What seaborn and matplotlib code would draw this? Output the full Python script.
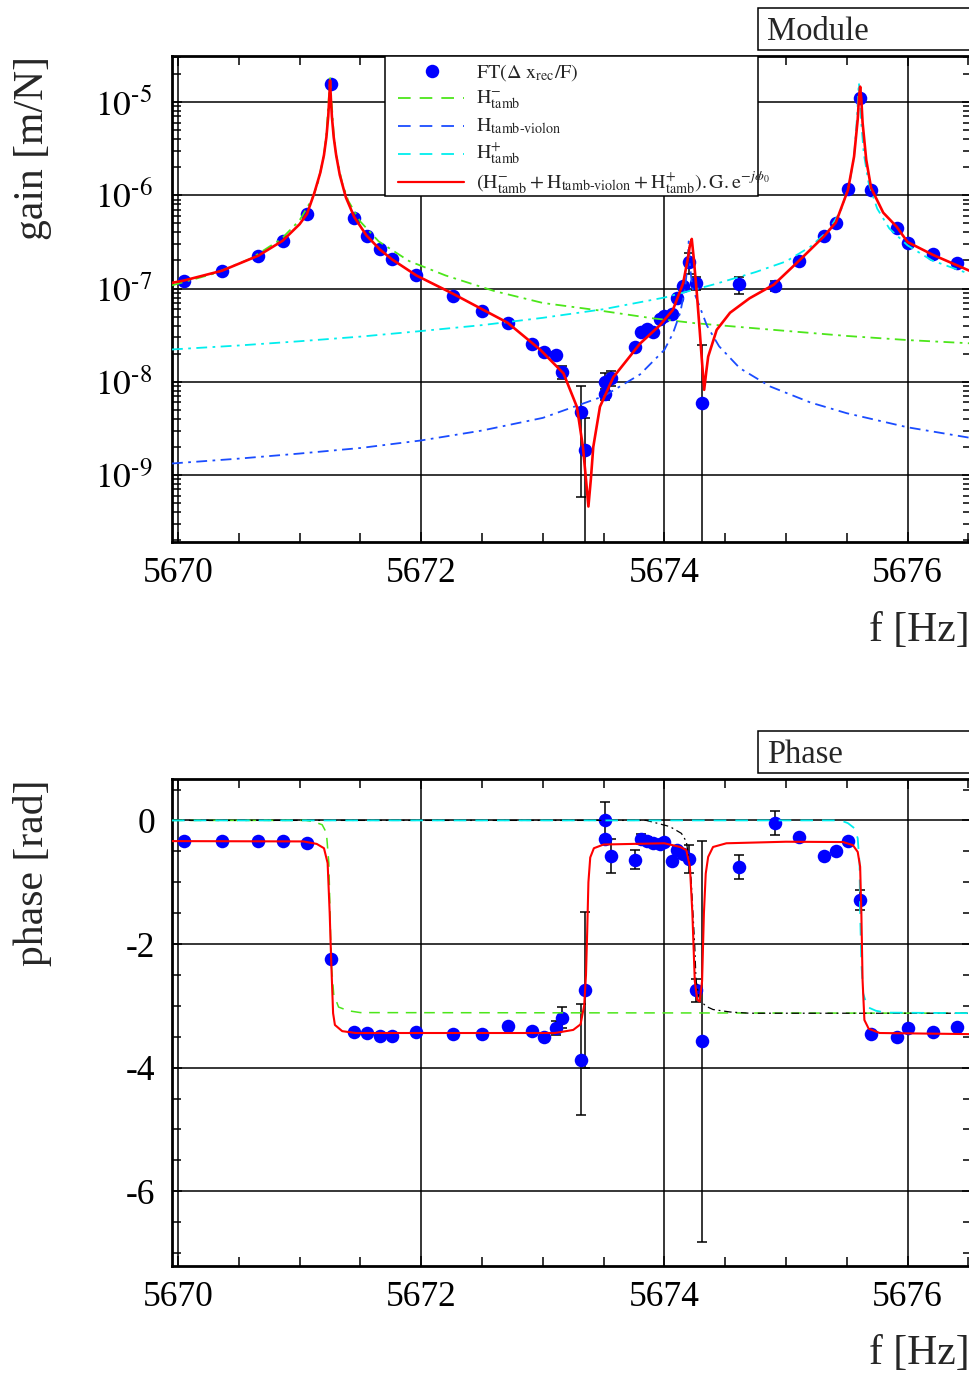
import numpy as np
import pandas as pd
import matplotlib
matplotlib.use('Agg')
import matplotlib.pyplot as plt
import matplotlib.ticker as mticker
from matplotlib.patches import Rectangle
from matplotlib.lines import Line2D
import seaborn as sns

W, H = 970, 1373

# measured points FT(dx_rec/F)
freq = [5670.05, 5670.36, 5670.66, 5670.86, 5671.06, 5671.26, 5671.45, 5671.55, 5671.66, 5671.76,
        5671.96, 5672.26, 5672.50, 5672.71, 5672.91, 5673.01, 5673.11, 5673.16, 5673.31, 5673.35,
        5673.51, 5673.51, 5673.56, 5673.76, 5673.81, 5673.86, 5673.91, 5673.96, 5674.00, 5674.06,
        5674.10, 5674.15, 5674.20, 5674.26, 5674.31, 5674.61, 5674.91, 5675.11, 5675.31, 5675.41,
        5675.51, 5675.61, 5675.70, 5675.91, 5676.00, 5676.21, 5676.41]
gain = [1.2e-7, 1.55e-7, 2.25e-7, 3.26e-7, 6.25e-7, 1.57e-5, 5.66e-7, 3.66e-7, 2.65e-7, 2.06e-7,
        1.40e-7, 8.4e-8, 5.74e-8, 4.24e-8, 2.54e-8, 2.10e-8, 1.95e-8, 1.28e-8, 4.78e-9, 1.85e-9,
        7.4e-9, 1.0e-8, 1.09e-8, 2.38e-8, 3.39e-8, 3.65e-8, 3.44e-8, 4.68e-8, 5.07e-8, 5.28e-8,
        7.96e-8, 1.07e-7, 1.92e-7, 1.15e-7, 5.97e-9, 1.11e-7, 1.07e-7, 1.97e-7, 3.66e-7, 5.08e-7,
        1.17e-6, 1.11e-5, 1.14e-6, 4.49e-7, 3.05e-7, 2.34e-7, 1.86e-7]
gain_err = [0, 0, 0, 0, 0, 0, 0, 0, 0, 0,
            0, 0, 0, 0, 0, 0, 1.5e-9, 2.0e-9, 4.2e-9, 2.2e-9,
            1.0e-9, 2.5e-9, 2.0e-9, 0, 0, 0, 0, 0, 0, 0,
            0, 0, 4.8e-8, 1.8e-8, 1.88e-8, 2.3e-8, 1.2e-8, 0, 0, 0,
            0, 0, 0, 0, 0, 0, 0]
phase = [-0.334, -0.334, -0.334, -0.334, -0.366, -2.237, -3.419, -3.441, -3.484, -3.484,
         -3.419, -3.452, -3.45, -3.32, -3.40, -3.50, -3.36, -3.19, -3.87, -2.74,
         0.01, -0.30, -0.575, -0.634, -0.30, -0.33, -0.37, -0.38, -0.35, -0.656,
         -0.484, -0.548, -0.629, -2.75, -3.576, -0.753, -0.043, -0.269, -0.58, -0.495,
         -0.339, -1.29, -3.452, -3.51, -3.36, -3.43, -3.35]
phase_err = [0, 0, 0, 0, 0, 0, 0, 0, 0, 0,
             0, 0, 0, 0, 0, 0, 0.12, 0.17, 0.9, 1.26,
             0.28, 0.05, 0.28, 0.16, 0.08, 0.06, 0.06, 0.05, 0.05, 0,
             0.05, 0.06, 0.23, 0.19, 3.25, 0.2, 0.2, 0, 0, 0,
             0, 0.16, 0, 0, 0, 0, 0]

# fitted components, gain
hm_f = [5669.95, 5670.3, 5670.6, 5670.85, 5671.0, 5671.1, 5671.15, 5671.2, 5671.22, 5671.235,
        5671.245, 5671.25, 5671.255, 5671.265, 5671.28, 5671.3, 5671.35, 5671.4, 5671.5, 5671.65,
        5671.9, 5672.2, 5672.6, 5673.0, 5673.45, 5673.9, 5674.25, 5674.9, 5675.5, 5676.0, 5676.6]
hm_gain = [1.08e-7, 1.45e-7, 2.1e-7, 3.4e-7, 5.4e-7, 9.0e-7, 1.35e-6, 2.7e-6, 4.5e-6, 9.0e-6,
           1.4e-5, 1.8e-5, 1.4e-5, 9.0e-6, 4.5e-6, 2.7e-6, 1.35e-6, 8.7e-7, 5.2e-7, 3.2e-7,
           1.97e-7, 1.38e-7, 9.4e-8, 7.0e-8, 5.85e-8, 4.8e-8, 4.25e-8, 3.6e-8, 3.1e-8, 2.8e-8, 2.55e-8]

hv_f = [5669.95, 5670.5, 5671.0, 5671.5, 5672.0, 5672.5, 5673.0, 5673.5, 5673.8, 5674.0,
        5674.07, 5674.13, 5674.17, 5674.19, 5674.2, 5674.21, 5674.23, 5674.27, 5674.35, 5674.45,
        5674.62, 5674.87, 5675.2, 5675.5, 5676.0, 5676.6]
hv_gain = [1.33e-9, 1.5e-9, 1.7e-9, 1.95e-9, 2.35e-9, 3.0e-9, 4.1e-9, 7.0e-9, 1.2e-8, 2.2e-8,
           3.3e-8, 5.5e-8, 1.0e-7, 1.8e-7, 3.2e-7, 1.8e-7, 1.0e-7, 7.5e-8, 4.0e-8, 2.4e-8,
           1.4e-8, 8.9e-9, 6.0e-9, 4.6e-9, 3.25e-9, 2.4e-9]

hp_f = [5669.95, 5670.5, 5671.0, 5671.5, 5672.0, 5672.5, 5673.0, 5673.5, 5674.0, 5674.4,
        5674.75, 5675.0, 5675.2, 5675.35, 5675.45, 5675.52, 5675.56, 5675.585, 5675.595, 5675.6,
        5675.605, 5675.615, 5675.64, 5675.68, 5675.75, 5675.85, 5676.0, 5676.2, 5676.5, 5676.6]
hp_gain = [2.22e-8, 2.45e-8, 2.72e-8, 3.05e-8, 3.5e-8, 4.05e-8, 4.85e-8, 6.0e-8, 8.0e-8, 1.1e-7,
           1.5e-7, 1.95e-7, 2.8e-7, 4.2e-7, 6.8e-7, 1.3e-6, 2.6e-6, 7.0e-6, 1.3e-5, 1.6e-5,
           1.3e-5, 7.0e-6, 2.8e-6, 1.35e-6, 7.2e-7, 4.4e-7, 2.9e-7, 2.0e-7, 1.45e-7, 1.32e-7]

tot_f = [5669.95, 5670.05, 5670.36, 5670.66, 5670.86, 5671.0, 5671.06, 5671.12, 5671.17, 5671.2,
         5671.22, 5671.235, 5671.245, 5671.25, 5671.255, 5671.265, 5671.28, 5671.3, 5671.33, 5671.38,
         5671.45, 5671.55, 5671.66, 5671.76, 5671.96, 5672.26, 5672.5, 5672.71, 5672.98, 5673.17,
         5673.28, 5673.33, 5673.355, 5673.375, 5673.395, 5673.415, 5673.47, 5673.58, 5673.8, 5673.96,
         5674.07, 5674.154, 5674.19, 5674.21, 5674.225, 5674.24, 5674.265, 5674.29, 5674.306, 5674.327,
         5674.345, 5674.36, 5674.43, 5674.54, 5674.7, 5674.9, 5675.11, 5675.31, 5675.41, 5675.51,
         5675.56, 5675.59, 5675.6, 5675.61, 5675.62, 5675.63, 5675.66, 5675.7, 5675.8, 5675.91,
         5676.0, 5676.21, 5676.51, 5676.6]
tot_gain = [1.15e-7, 1.22e-7, 1.55e-7, 2.25e-7, 3.25e-7, 4.9e-7, 6.3e-7, 1.05e-6, 1.75e-6, 2.7e-6,
            4.2e-6, 7.0e-6, 1.2e-5, 1.7e-5, 1.2e-5, 7.0e-6, 4.2e-6, 2.7e-6, 1.65e-6, 9.5e-7,
            5.8e-7, 3.7e-7, 2.62e-7, 2.05e-7, 1.38e-7, 8.8e-8, 6.0e-8, 4.3e-8, 2.2e-8, 1.23e-8,
            5.4e-9, 2.0e-9, 9.0e-10, 4.6e-10, 9.0e-10, 2.0e-9, 5.4e-9, 1.12e-8, 2.57e-8, 4.0e-8,
            5.9e-8, 1.14e-7, 2.0e-7, 2.9e-7, 3.4e-7, 2.2e-7, 9.5e-8, 3.6e-8, 1.86e-8, 8.2e-9,
            1.3e-8, 1.86e-8, 3.6e-8, 5.5e-8, 7.85e-8, 1.1e-7, 2.0e-7, 3.6e-7, 5.1e-7, 1.14e-6,
            2.6e-6, 6.5e-6, 1.1e-5, 1.46e-5, 1.05e-5, 6.0e-6, 2.4e-6, 1.2e-6, 6.5e-7, 4.6e-7,
            3.15e-7, 2.29e-7, 1.55e-7, 1.45e-7]

# fitted components, phase
hm_pf = [5669.95, 5671.05, 5671.115, 5671.185, 5671.22, 5671.24, 5671.25, 5671.26, 5671.28, 5671.32,
         5671.40, 5671.5, 5676.6]
hm_phase = [0, 0, -0.02, -0.07, -0.2, -0.69, -1.5, -2.32, -2.81, -3.02, -3.08, -3.11, -3.12]

hv_pf = [5669.95, 5673.85, 5673.92, 5674.045, 5674.14, 5674.18, 5674.20, 5674.22, 5674.235, 5674.25,
         5674.26, 5674.29, 5674.345, 5674.40, 5674.54, 5674.7, 5676.6]
hv_phase = [0, 0, -0.035, -0.10, -0.21, -0.34, -0.59, -0.96, -1.50, -2.05,
            -2.59, -2.91, -3.01, -3.06, -3.10, -3.12, -3.12]

hp_pf = [5669.95, 5675.45, 5675.51, 5675.565, 5675.59, 5675.605, 5675.61, 5675.62, 5675.635, 5675.67,
         5675.74, 5675.82, 5676.6]
hp_phase = [0, 0, -0.045, -0.13, -0.29, -0.69, -1.5, -2.31, -2.80, -3.02, -3.08, -3.11, -3.12]

tot_pf = [5669.95, 5671.03, 5671.14, 5671.20, 5671.23, 5671.247, 5671.26, 5671.275, 5671.29, 5671.35,
          5671.46, 5673.1, 5673.25, 5673.31, 5673.34, 5673.355, 5673.365, 5673.375, 5673.39, 5673.42,
          5673.5, 5674.0, 5674.13, 5674.18, 5674.21, 5674.23, 5674.25, 5674.27, 5674.29, 5674.31,
          5674.325, 5674.34, 5674.36, 5674.40, 5674.51, 5675.0, 5675.47, 5675.55, 5675.59, 5675.61,
          5675.62, 5675.63, 5675.645, 5675.68, 5675.77, 5676.6]
tot_phase = [-0.335, -0.34, -0.38, -0.45, -0.69, -1.5, -2.31, -3.12, -3.31, -3.41,
             -3.44, -3.44, -3.39, -3.3, -3.0, -2.5, -1.8, -1.0, -0.6, -0.45,
             -0.39, -0.37, -0.43, -0.48, -0.75, -1.5, -2.6, -2.9, -2.93, -2.6,
             -1.5, -0.86, -0.59, -0.43, -0.37, -0.345, -0.35, -0.40, -0.51, -0.75,
             -1.5, -2.59, -3.23, -3.37, -3.44, -3.46]

gain_decades = [1e-9, 1e-8, 1e-7, 1e-6, 1e-5]

GREEN = '#4ce61a'
VBLUE = '#1a4cff'
CYAN = '#00eeee'
RED = '#ff0000'
DASHDOT = (0, (6, 3, 1.5, 3))
DASHED = (0, (7, 5))

sns.set_theme(style='ticks')
plt.rcParams['font.family'] = ['Liberation Serif', 'DejaVu Serif']
plt.rcParams['mathtext.fontset'] = 'stix'
plt.rcParams['axes.unicode_minus'] = False

fig = plt.figure(figsize=(W / 100, H / 100), dpi=100)


def fig_box(x0, y0, x1, y1):
    # pixel box -> figure fraction rect
    return [x0 / W, 1 - y1 / H, (x1 - x0) / W, (y1 - y0) / H]


ax1 = fig.add_axes(fig_box(172, 56, 972, 542))
ax2 = fig.add_axes(fig_box(172, 779, 972, 1266))

for ax in (ax1, ax2):
    ax.set_xlim(5669.95, 5676.53)
    ax.xaxis.set_major_locator(mticker.MultipleLocator(2))
    ax.xaxis.set_minor_locator(mticker.MultipleLocator(0.5))
    ax.xaxis.set_major_formatter(mticker.FormatStrFormatter('%d'))
    ax.tick_params(which='both', direction='in', top=True, right=True, width=1.1, colors='black')
    ax.tick_params(which='major', length=7.5, labelsize=25.5)
    ax.tick_params(which='minor', length=6.5)
    ax.tick_params(axis='x', pad=11)
    ax.set_axisbelow(True)
    ax.grid(True, which='major', color='black', lw=1.1)
    for s in ax.spines.values():
        s.set_linewidth(2)
        s.set_color('black')

# ---- gain panel
ax1.set_yscale('log')
ax1.set_ylim(10 ** -9.718, 10 ** -4.507)
ax1.yaxis.set_major_locator(mticker.FixedLocator(gain_decades))
ax1.yaxis.set_minor_locator(mticker.LogLocator(base=10, subs=np.arange(2, 10), numticks=20))
ax1.yaxis.set_minor_formatter(mticker.NullFormatter())
ax1.yaxis.set_major_formatter(mticker.FuncFormatter(lambda v, p: r'$10^{\text{-%d}}$' % round(-np.log10(v))))
ax1.tick_params(axis='y', pad=14)

ax1.errorbar(freq, gain, yerr=gain_err, fmt='none', ecolor='black', elinewidth=1.1,
             capsize=3.6, capthick=1.1, zorder=3)
sns.scatterplot(x=freq, y=gain, ax=ax1, color='#0000ff', s=95, linewidth=0, zorder=4)
sns.lineplot(x=hm_f, y=hm_gain, ax=ax1, color=GREEN, lw=1.3, linestyle=DASHDOT,
             estimator=None, sort=False, zorder=5)
sns.lineplot(x=hv_f, y=hv_gain, ax=ax1, color=VBLUE, lw=1.3, linestyle=DASHDOT,
             estimator=None, sort=False, zorder=5)
sns.lineplot(x=hp_f, y=hp_gain, ax=ax1, color=CYAN, lw=1.3, linestyle=DASHDOT,
             estimator=None, sort=False, zorder=5)
sns.lineplot(x=tot_f, y=tot_gain, ax=ax1, color=RED, lw=1.9,
             estimator=None, sort=False, zorder=6)

ax1.set_xlabel('f [Hz]', loc='right', fontsize=30)
ax1.xaxis.set_label_coords(0.9975, -0.144)
ax1.set_ylabel('gain [m/N]', loc='top', fontsize=30)
ax1.yaxis.set_label_coords(-0.15, 1.0)

# legend, drawn by hand in ROOT layout
def ax_pt(px, py):
    return (px - 172) / 800, (542 - py) / 486


lx0, ly0 = ax_pt(385, 196)
lx1, ly1 = ax_pt(758, 56)
ax1.add_patch(Rectangle((lx0, ly0), lx1 - lx0, ly1 - ly0, transform=ax1.transAxes,
                        facecolor='white', edgecolor='black', lw=1.1, zorder=10))
leg_rows = [71, 98.3, 125.7, 153.7, 181.7]
leg_base = [77.7, 103.3, 131, 159, 188.3]
leg_text = [r'$\mathrm{FT}(\Delta\ \mathrm{x}_{\mathrm{rec}}/\mathrm{F})$',
            r'$\mathrm{H}^{-}_{\mathrm{tamb}}$',
            r'$\mathrm{H}_{\text{tamb-violon}}$',
            r'$\mathrm{H}^{+}_{\mathrm{tamb}}$',
            r'$(\mathrm{H}^{-}_{\mathrm{tamb}}+\mathrm{H}_{\text{tamb-violon}}+\mathrm{H}^{+}_{\mathrm{tamb}}).\mathrm{G.e}^{-j\phi_{0}}$']
leg_style = [None, (GREEN, DASHED), (VBLUE, DASHED), (CYAN, DASHED), (RED, '-')]
for ry, by, txt, st in zip(leg_rows, leg_base, leg_text, leg_style):
    xa, ya = ax_pt(398, ry)
    xb, _ = ax_pt(464, ry)
    if st is None:
        xm, _ = ax_pt(431.7, ry)
        ax1.add_line(Line2D([xm], [ya], transform=ax1.transAxes, marker='o', ms=9.7,
                            color='#0000ff', mew=0, zorder=11))
    else:
        ax1.add_line(Line2D([xa, xb], [ya, ya], transform=ax1.transAxes, color=st[0],
                            ls=st[1], lw=1.3 if st[1] != '-' else 1.6, zorder=11))
    xt, yt = ax_pt(476, by)
    ax1.text(xt, yt, txt, transform=ax1.transAxes, fontsize=14.5, va='baseline',
             ha='left', zorder=12)

# ---- phase panel
ax2.set_ylim(-7.21, 0.67)
ax2.yaxis.set_major_locator(mticker.MultipleLocator(2))
ax2.yaxis.set_minor_locator(mticker.MultipleLocator(0.5))
ax2.yaxis.set_major_formatter(mticker.FormatStrFormatter('%d'))
ax2.tick_params(axis='y', pad=12)

ax2.errorbar(freq, phase, yerr=phase_err, fmt='none', ecolor='black', elinewidth=1.1,
             capsize=3.6, capthick=1.1, zorder=3)
sns.scatterplot(x=freq, y=phase, ax=ax2, color='#0000ff', s=95, linewidth=0, zorder=4)
sns.lineplot(x=hm_pf, y=hm_phase, ax=ax2, color=GREEN, lw=1.1, linestyle=DASHED,
             estimator=None, sort=False, zorder=5)
sns.lineplot(x=hv_pf, y=hv_phase, ax=ax2, color='black', lw=0.9, linestyle=DASHDOT,
             estimator=None, sort=False, zorder=5)
sns.lineplot(x=hp_pf, y=hp_phase, ax=ax2, color=CYAN, lw=1.3, linestyle=DASHED,
             estimator=None, sort=False, zorder=5)
sns.lineplot(x=tot_pf, y=tot_phase, ax=ax2, color=RED, lw=1.5,
             estimator=None, sort=False, zorder=6)

ax2.set_xlabel('f [Hz]', loc='right', fontsize=30)
ax2.xaxis.set_label_coords(0.9975, -0.140)
ax2.set_ylabel('phase [rad]', loc='top', fontsize=30)
ax2.yaxis.set_label_coords(-0.15, 1.0)

# title boxes (cut by the right edge, as in the original canvas)
for (y0, y1, label) in [(8, 50, 'Module'), (731, 773, 'Phase')]:
    fig.add_artist(Rectangle((758 / W, 1 - y1 / H), 300 / W, (y1 - y0) / H,
                             transform=fig.transFigure, facecolor='white',
                             edgecolor='black', lw=1.1))
    fig.text(767 / W, 1 - ((y0 + y1) / 2 + 2.5) / H, label, fontsize=23.5, va='center', ha='left')

fig.savefig('out.png', dpi=100)
